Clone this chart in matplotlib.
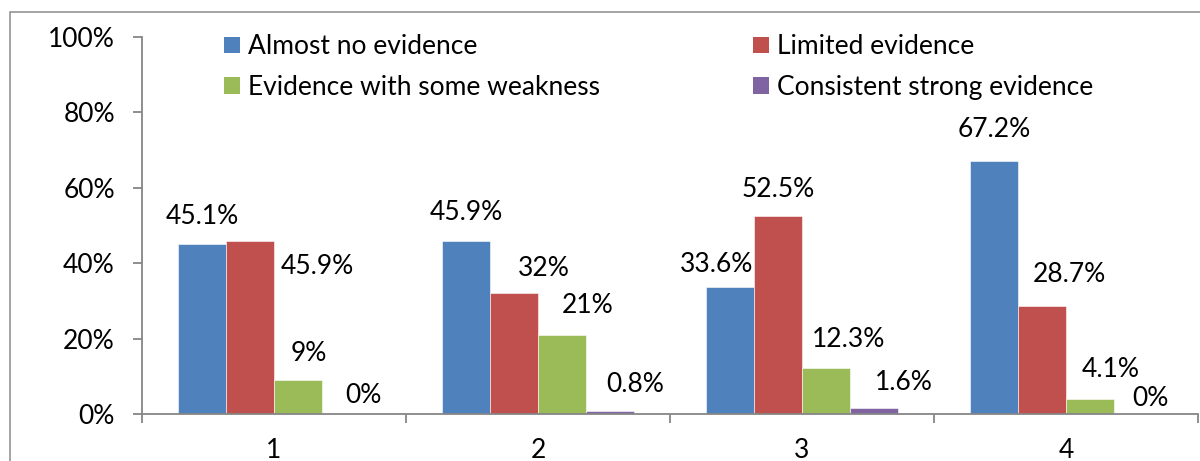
import matplotlib
matplotlib.use("Agg")
import matplotlib.pyplot as plt
from matplotlib.patches import Rectangle, Patch

plt.rcParams['font.family'] = ['Lato', 'DejaVu Sans']

# ---- data ----
categories = ["1", "2", "3", "4"]
series_names = ["Almost no evidence", "Limited evidence",
                "Evidence with some weakness", "Consistent strong evidence"]
almost_no = [45.1, 45.9, 33.6, 67.2]
limited = [45.9, 32.0, 52.5, 28.7]
some_weakness = [9.0, 21.0, 12.3, 4.1]
consistent = [0.0, 0.8, 1.6, 0.0]
value_labels = [
    ["45.1%", "45.9%", "33.6%", "67.2%"],
    ["45.9%", "32%", "52.5%", "28.7%"],
    ["9%", "21%", "12.3%", "4.1%"],
    ["0%", "0.8%", "1.6%", "0%"],
]
y_ticks = [0, 20, 40, 60, 80, 100]
y_tick_labels = ["0%", "20%", "40%", "60%", "80%", "100%"]

# ---- styling ----
colors = ["#4F81BD", "#C0504D", "#9BBB59", "#8064A2"]
# label offsets from each bar's top centre, in pixels (dx, dy)
label_offsets = [
    [(0, 27), (0, 28), (-13, 23), (0, 31)],
    [(67, -26), (30, 25), (0, 27), (27, 31)],
    [(11, 27), (26, 29), (23, 28), (21, 29)],
    [(17, 19), (25, 26), (30, 25), (12, 16)],
]
grey = "#868686"
fs = 19

W, H = 1200, 461
fig = plt.figure(figsize=(W / 100, H / 100), dpi=100)
ax = fig.add_axes([142 / W, 1 - 414 / H, (1198 - 142) / W, (414 - 37) / H])

series = [almost_no, limited, some_weakness, consistent]
bar_w = 48 / 264
xs = list(range(len(categories)))
handles = []
for i, (vals, col) in enumerate(zip(series, colors)):
    pos = [x + (i - 1.5) * bar_w for x in xs]
    ax.bar(pos, vals, width=bar_w, color=col, edgecolor="white",
           linewidth=0.4, label=series_names[i])
    handles.append(Patch(facecolor=col, edgecolor="none", label=series_names[i]))
    for j, (p, v) in enumerate(zip(pos, vals)):
        dx, dy = label_offsets[i][j]
        ax.annotate(value_labels[i][j], xy=(p, v), xytext=(dx, dy),
                    textcoords="offset pixels", ha="center", va="center",
                    fontsize=fs, color="black")

ax.set_xlim(-0.5, len(categories) - 0.5)
ax.set_ylim(0, 100)

# axes styling
for s in ["top", "right"]:
    ax.spines[s].set_visible(False)
for s in ["left", "bottom"]:
    ax.spines[s].set_color(grey)
    ax.spines[s].set_linewidth(1.3)

ax.set_yticks(y_ticks)
ax.set_yticklabels(y_tick_labels, fontsize=fs)
ax.tick_params(axis="y", direction="out", length=6.5, width=1.3, color=grey, pad=13)

ax.set_xticks([x - 0.5 for x in xs] + [len(categories) - 0.5])
ax.set_xticklabels([])
ax.set_xticks(xs, minor=True)
ax.set_xticklabels(categories, minor=True, fontsize=fs)
ax.tick_params(axis="x", which="major", direction="out", length=6.5, width=1.3, color=grey)
ax.tick_params(axis="x", which="minor", length=0, pad=17)

# legend in two columns
leg_kw = dict(fontsize=fs, frameon=False, borderpad=0, borderaxespad=0,
              handlelength=0.6, handleheight=0.6, handletextpad=0.3,
              labelspacing=0.58, loc="center left",
              bbox_transform=fig.transFigure)
leg1 = ax.legend(handles=[handles[0], handles[2]],
                 bbox_to_anchor=(224 / W, 1 - 67 / H), **leg_kw)
ax.add_artist(leg1)
ax.legend(handles=[handles[1], handles[3]],
          bbox_to_anchor=(753 / W, 1 - 67 / H), **leg_kw)

# chart area border
fig.patches.append(Rectangle((10 / W, -0.2), 2.0, 1.2 - 12 / H,
                             transform=fig.transFigure, fill=False,
                             edgecolor="#8c8c8c", linewidth=1.1))

fig.savefig("out.png", dpi=100)
